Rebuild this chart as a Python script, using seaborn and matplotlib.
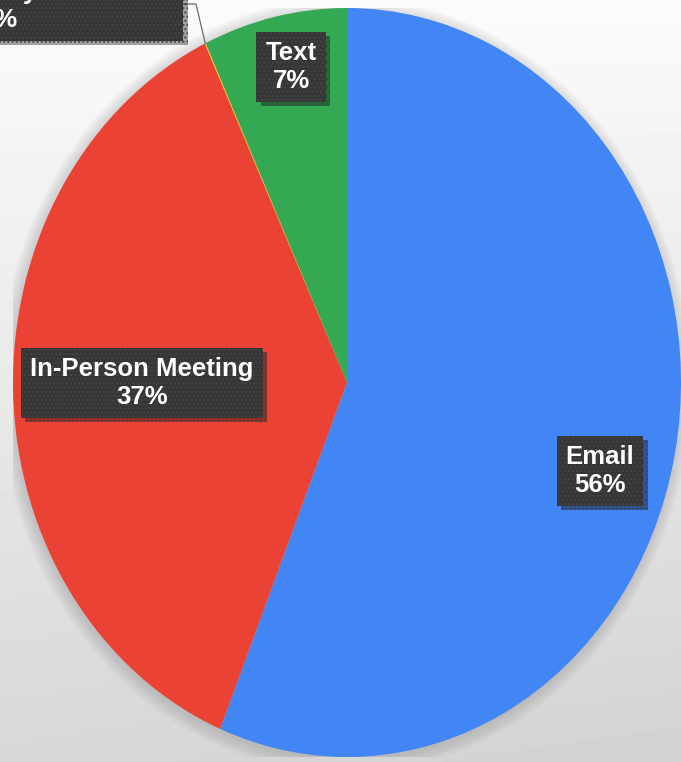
import numpy as np
import matplotlib
matplotlib.use('Agg')
import matplotlib.pyplot as plt
import seaborn as sns
from matplotlib import patheffects as pe
from matplotlib.patches import Ellipse

sns.set_theme(style='white')
plt.rcParams['font.family'] = ['Liberation Sans', 'DejaVu Sans']

# ---- data ----
categories = ['Email', 'In-Person Meeting', 'Printed Company Newsletter', 'Text']
values = [56.2, 36.8, 0.05, 6.95]
colors = ['#4285F4', '#EA4335', '#FBBC05', '#34A853']

W, H = 681, 762
fig = plt.figure(figsize=(W / 100, H / 100), dpi=100)

# background gradient
bg = fig.add_axes([0, 0, 1, 1])
bg.axis('off')
yy = np.linspace(0, 1, 200)[:, None]
xx = np.linspace(0, 1, 200)[None, :]
grad = 0.985 - 0.14 * yy - 0.02 * xx * yy
bg.imshow(grad, cmap='gray', vmin=0, vmax=1, extent=[0, 1, 0, 1], aspect='auto', origin='upper')

# pie axes: pixel geometry
cx, cy, rx, ry = 347, 382.5, 334, 374.5
ax = fig.add_axes([(cx - rx) / W, (H - cy - ry) / H, 2 * rx / W, 2 * ry / H])
ax.patch.set_alpha(0)

def px(x, y):
    return ((x - cx) / rx, (cy - y) / ry)

# soft shadow
for r in np.linspace(1.0, 1.035, 8):
    ax.add_patch(Ellipse((-0.005, -0.008), 2 * r, 2 * r, fc='#808080', ec='none', alpha=0.045, zorder=0))

wedges, _ = ax.pie(values, colors=colors, startangle=90, counterclock=False, radius=1,
                   wedgeprops=dict(linewidth=0))
for w in wedges:
    w.set_zorder(2)
ax.set_aspect('auto')
ax.set_xlim(-1, 1)
ax.set_ylim(-1, 1)
ax.axis('off')

total = sum(values)
pcts = [round(v / total * 100) for v in values]

label_pos = {
    'Email': (600, 471),
    'In-Person Meeting': (142, 383),
    'Printed Company Newsletter': (-1, 6),
    'Text': (291, 67),
}

for cat, p in zip(categories, pcts):
    x, y = px(*label_pos[cat])
    t = ax.text(x, y, f'{cat}\n{p}%', ha='center', va='center', color='white',
                fontsize=18.5, fontweight='bold', linespacing=1.2, zorder=5, clip_on=False,
                bbox=dict(boxstyle='square,pad=0.35', fc='#363636', ec='#444444', lw=0, hatch='....'))
    t.get_bbox_patch().set_path_effects([
        pe.SimplePatchShadow(offset=(3, -3), shadow_rgbFace='black', alpha=0.35), pe.Normal()])

# leader line for the tiny newsletter slice
cum = np.cumsum(values)
ang = np.deg2rad(90 - 360 * (cum[1] + values[2] / 2) / total)
ex, ey = np.cos(ang), np.sin(ang)
sx, sy = px(182, 4)
mx, my = px(196, 4)
ax.plot([sx, mx, ex], [sy, my, ey], color='#6a6a6a', lw=0.9, zorder=4, clip_on=False)

fig.savefig('out.png', dpi=100)
